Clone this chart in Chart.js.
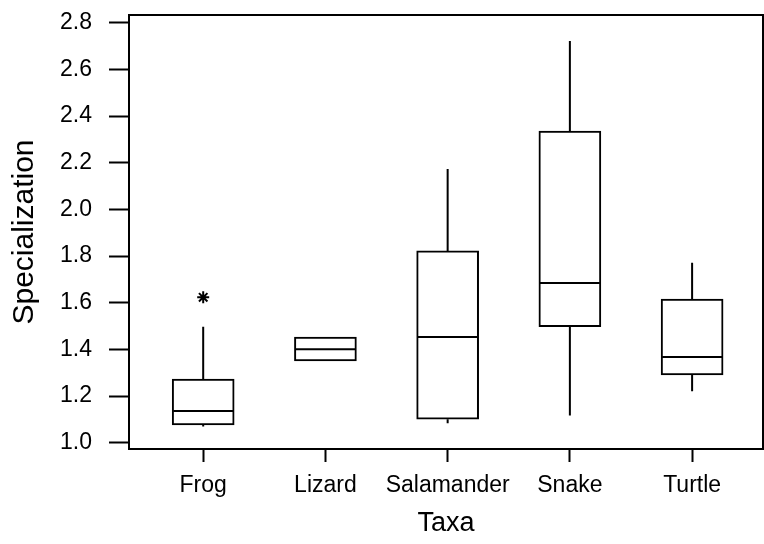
<!DOCTYPE html>
<html>
<head>
    <script src="https://cdn.jsdelivr.net/npm/chart.js@4.4.1/dist/chart.umd.min.js"></script>
    <style>
        body{
            margin: 0;
            background: #fff;
        }
        #chart-div {
            width: 764px;
            height: 544px;
            position: relative;
        }
    </style>
</head>
<body>
<div id="chart-div">
    <canvas id="chart"></canvas>
</div>
<script>
// box plot values
const taxa = ['Frog', 'Lizard', 'Salamander', 'Snake', 'Turtle'];
const whiskerLow  = [1.069, 1.350, 1.083, 1.117, 1.220];
const q1          = [1.076, 1.350, 1.101, 1.497, 1.290];
const median      = [1.136, 1.401, 1.453, 1.684, 1.367];
const q3          = [1.273, 1.453, 1.822, 2.335, 1.615];
const whiskerHigh = [1.497, 1.453, 2.173, 2.722, 1.771];
const outlierTaxon = [0];
const outlierValue = [1.623];
const yTicks = [1.0, 1.2, 1.4, 1.6, 1.8, 2.0, 2.2, 2.4, 2.6, 2.8];

const FONT = "'Liberation Sans', Arial, sans-serif";

// whisker segments, separated by gaps
const whiskerPts = [];
taxa.forEach((t, i) => {
    whiskerPts.push({x: i, y: q3[i]}, {x: i, y: whiskerHigh[i]}, {x: i, y: null});
    whiskerPts.push({x: i, y: q1[i]}, {x: i, y: whiskerLow[i]}, {x: i, y: null});
});

// frame round the plot area
const frame = {
    id: 'frame',
    afterDraw(chart) {
        const a = chart.chartArea;
        const ctx = chart.ctx;
        ctx.save();
        ctx.strokeStyle = '#000';
        ctx.lineWidth = 2;
        ctx.strokeRect(a.left, a.top, a.right - a.left, a.bottom - a.top);
        ctx.restore();
    }
};

function noPad(s) {
    s.paddingTop = 0; s.paddingBottom = 0;
    s.paddingLeft = 0; s.paddingRight = 0;
}

const ctx = document.getElementById('chart').getContext('2d');
new Chart(ctx, {
    data: {
        datasets: [
            {
                type: 'line',
                data: whiskerPts,
                borderColor: '#000',
                borderWidth: 2,
                pointRadius: 0,
                spanGaps: false,
                order: 3
            },
            {
                type: 'bar',
                data: taxa.map((t, i) => ({x: i, y: [q1[i], q3[i]]})),
                backgroundColor: '#fff',
                borderColor: '#000',
                borderWidth: 2,
                borderSkipped: false,
                barThickness: 62,
                order: 2
            },
            {
                type: 'scatter',
                data: taxa.map((t, i) => ({x: i, y: median[i]})),
                pointStyle: 'line',
                pointRadius: 30,
                borderColor: '#000',
                borderWidth: 2,
                order: 1
            },
            {
                type: 'scatter',
                data: outlierTaxon.map((t, k) => ({x: t, y: outlierValue[k]})),
                pointStyle: 'star',
                pointRadius: 6,
                borderColor: '#000',
                borderWidth: 2,
                order: 0
            }
        ]
    },
    options: {
        responsive: true,
        maintainAspectRatio: false,
        animation: false,
        layout: { autoPadding: false, padding: { top: 15, right: 1, left: 0, bottom: 0 } },
        plugins: {
            legend: { display: false },
            tooltip: { enabled: false }
        },
        scales: {
            x: {
                type: 'linear',
                offset: false,
                min: -0.607,
                max: 4.58,
                afterBuildTicks: s => { s.ticks = taxa.map((t, i) => ({value: i})); },
                afterFit: s => { s.height = 95; noPad(s); },
                grid: {
                    drawOnChartArea: false,
                    offset: false,
                    tickLength: 13,
                    tickWidth: 2,
                    tickColor: '#000'
                },
                border: { color: '#000', width: 2 },
                ticks: {
                    padding: 10,
                    autoSkip: false,
                    maxRotation: 0,
                    minRotation: 0,
                    color: '#000',
                    font: { family: FONT, size: 23 },
                    callback: v => taxa[v]
                },
                title: {
                    display: true,
                    text: 'Taxa',
                    color: '#000',
                    font: { family: FONT, size: 27 },
                    padding: { top: 0, bottom: 4 }
                }
            },
            y: {
                type: 'linear',
                min: 0.973,
                max: 2.833,
                afterBuildTicks: s => { s.ticks = yTicks.map(v => ({value: v})); },
                afterFit: s => { s.width = 129; noPad(s); },
                grid: {
                    drawOnChartArea: false,
                    tickLength: 20,
                    tickWidth: 2,
                    tickColor: '#000'
                },
                border: { color: '#000', width: 2 },
                ticks: {
                    padding: 17,
                    color: '#000',
                    font: { family: FONT, size: 23 },
                    callback: v => v.toFixed(1)
                },
                title: {
                    display: true,
                    text: 'Specialization',
                    color: '#000',
                    font: { family: FONT, size: 30 },
                    padding: { top: 7, bottom: 0 }
                }
            }
        }
    },
    plugins: [frame]
});
</script>
</body>
</html>
